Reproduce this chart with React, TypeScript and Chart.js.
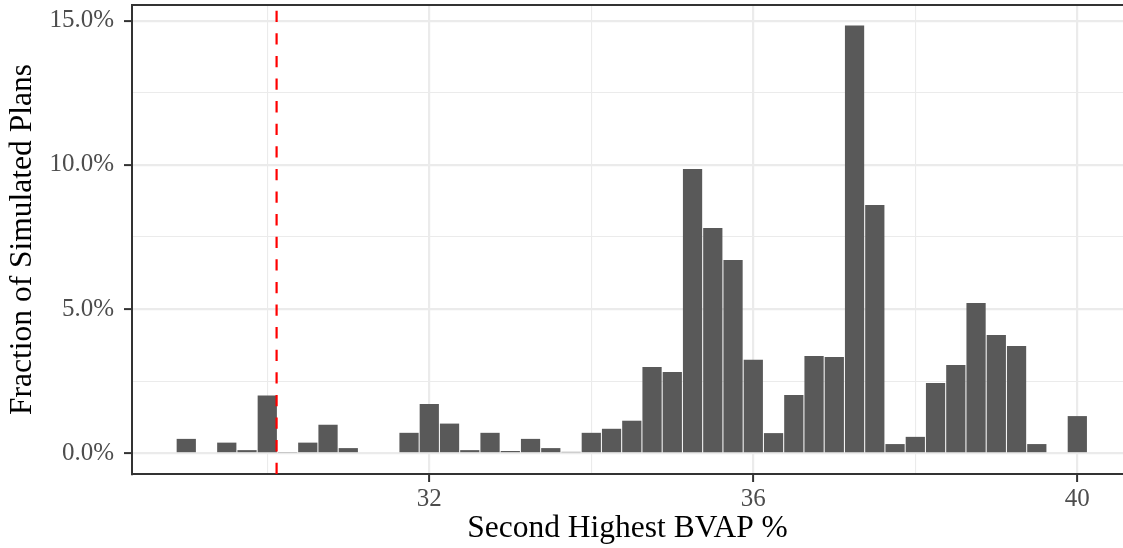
import React, { useEffect, useRef } from 'react';
import { Chart, registerables } from 'chart.js';

Chart.register(...registerables);

// Histogram bins (centre of each 0.25-wide bin, in BVAP %) and their share of plans (%)
const binCenters = [
  29.0, 29.5, 29.75, 30.0, 30.25, 30.5, 30.75, 31.0, 31.75, 32.0,
  32.25, 32.5, 32.75, 33.0, 33.25, 33.5, 33.75, 34.0, 34.25, 34.5,
  34.75, 35.0, 35.25, 35.5, 35.75, 36.0, 36.25, 36.5, 36.75, 37.0,
  37.25, 37.5, 37.75, 38.0, 38.25, 38.5, 38.75, 39.0, 39.25, 39.5,
  40.0,
];
const fractionPct = [
  0.50, 0.37, 0.11, 2.00, 0.03, 0.37, 0.99, 0.18, 0.71, 1.71,
  1.03, 0.11, 0.71, 0.08, 0.50, 0.18, 0.05, 0.71, 0.85, 1.13,
  2.99, 2.82, 9.86, 7.81, 6.70, 3.24, 0.70, 2.02, 3.37, 3.34,
  14.83, 8.61, 0.32, 0.57, 2.44, 3.06, 5.21, 4.10, 3.72, 0.32,
  1.29,
];

const xMajorTicks = [32, 36, 40];
const xMinorTicks = [30, 34, 38];
const yMajorTicks = [0, 5, 10, 15];
const yMinorTicks = [2.5, 7.5, 12.5];
const xLimits = [28.33, 40.564];
const yLimits = [-0.718, 15.545];
const enactedValue = 30.115;

const xTitle = 'Second Highest BVAP %';
const yTitle = 'Fraction of Simulated Plans';

const FONT = "'Liberation Serif', 'Times New Roman', serif";

export default function App() {
  const canvasRef = useRef<HTMLCanvasElement | null>(null);

  useEffect(() => {
    const canvas = canvasRef.current;
    if (!canvas) return;

    const overlay = {
      id: 'overlay',
      afterDatasetsDraw(chart: any) {
        const { ctx, chartArea, scales } = chart;
        const x = scales.x.getPixelForValue(enactedValue);
        ctx.save();
        ctx.beginPath();
        ctx.rect(chartArea.left, chartArea.top, chartArea.right - chartArea.left, chartArea.bottom - chartArea.top);
        ctx.clip();
        ctx.strokeStyle = '#FF0000';
        ctx.lineWidth = 2.2;
        ctx.setLineDash([11.3, 11.3]);
        ctx.beginPath();
        ctx.moveTo(x, chartArea.bottom);
        ctx.lineTo(x, chartArea.top);
        ctx.stroke();
        ctx.restore();
      },
      afterDraw(chart: any) {
        const { ctx, chartArea } = chart;
        ctx.save();
        ctx.strokeStyle = '#333333';
        ctx.lineWidth = 2;
        ctx.beginPath();
        ctx.moveTo(chartArea.left - 1, chartArea.top);
        ctx.lineTo(chartArea.right, chartArea.top);
        ctx.stroke();
        ctx.restore();
      },
    };

    const isMajorX = (v: number) => xMajorTicks.includes(v);
    const isMajorY = (v: number) => yMajorTicks.includes(v);

    const chart = new Chart(canvas, {
      type: 'bar',
      data: {
        datasets: [
          {
            data: binCenters.map((x, i) => ({ x, y: fractionPct[i] })),
            backgroundColor: '#595959',
            borderWidth: 0,
            barPercentage: 0.95,
            categoryPercentage: 1,
          },
        ],
      },
      options: {
        animation: false,
        responsive: false,
        layout: { padding: { top: 5, left: 0, right: 0, bottom: 0 } },
        plugins: {
          legend: { display: false },
          tooltip: { enabled: false },
        },
        scales: {
          x: {
            type: 'linear',
            min: xLimits[0],
            max: xLimits[1],
            offset: false,
            afterBuildTicks: (scale: any) => {
              scale.ticks = [...xMinorTicks, ...xMajorTicks].sort((a, b) => a - b).map((v) => ({ value: v }));
            },
            afterFit: (scale: any) => {
              scale.height = 74;
              scale.paddingLeft = 0;
              scale.paddingRight = 0;
              scale.paddingTop = 0;
              scale.paddingBottom = 0;
            },
            ticks: {
              autoSkip: false,
              maxRotation: 0,
              padding: 2,
              color: '#4D4D4D',
              font: { family: FONT, size: 25 },
              callback: (v: any) => (isMajorX(Number(v)) ? String(v) : ''),
            },
            grid: {
              offset: false,
              color: '#EBEBEB',
              lineWidth: (c: any) => (isMajorX(c.tick?.value) ? 2.2 : 1.1),
              drawTicks: true,
              tickLength: 8,
              tickWidth: 2,
              tickColor: (c: any) => (isMajorX(c.tick?.value) ? '#333333' : 'rgba(0,0,0,0)'),
            },
            border: { display: true, color: '#333333', width: 2 },
            title: {
              display: true,
              text: xTitle,
              color: '#000000',
              font: { family: FONT, size: 31.5 },
              padding: { top: 0, bottom: 0 },
            },
          },
          y: {
            type: 'linear',
            min: yLimits[0],
            max: yLimits[1],
            afterBuildTicks: (scale: any) => {
              scale.ticks = [...yMajorTicks, ...yMinorTicks].sort((a, b) => a - b).map((v) => ({ value: v }));
            },
            afterFit: (scale: any) => {
              scale.width = 132;
              scale.paddingLeft = 0;
              scale.paddingRight = 0;
              scale.paddingTop = 0;
              scale.paddingBottom = 0;
            },
            ticks: {
              autoSkip: false,
              padding: 10,
              color: '#4D4D4D',
              font: { family: FONT, size: 25 },
              callback: (v: any) => (isMajorY(Number(v)) ? Number(v).toFixed(1) + '%' : ''),
            },
            grid: {
              color: '#EBEBEB',
              lineWidth: (c: any) => (isMajorY(c.tick?.value) ? 2.2 : 1.1),
              drawTicks: true,
              tickLength: 8,
              tickWidth: 2,
              tickColor: (c: any) => (isMajorY(c.tick?.value) ? '#333333' : 'rgba(0,0,0,0)'),
            },
            border: { display: true, color: '#333333', width: 2 },
            title: {
              display: true,
              text: yTitle,
              color: '#000000',
              font: { family: FONT, size: 31.5 },
              padding: { top: 4, bottom: 0 },
            },
          },
        },
      },
      plugins: [overlay],
    } as any);

    return () => {
      chart.destroy();
    };
  }, []);

  return (
    <div style={{ position: 'fixed', left: 0, top: 0, width: 1123, height: 548, background: '#FFFFFF', overflow: 'hidden' }}>
      <canvas ref={canvasRef} width={1123} height={548} style={{ width: 1123, height: 548, display: 'block' }} />
    </div>
  );
}
